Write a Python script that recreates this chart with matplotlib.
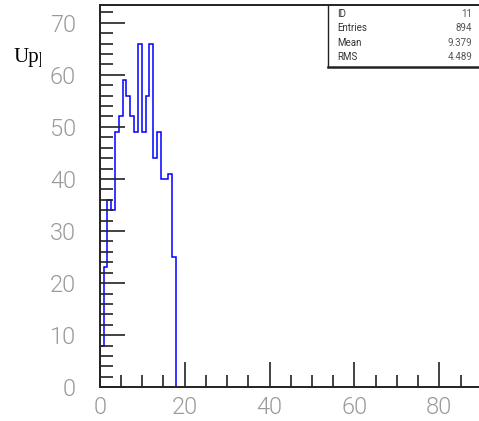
import numpy as np
import matplotlib
matplotlib.use("Agg")
import matplotlib.pyplot as plt
from matplotlib.transforms import Bbox
from matplotlib.lines import Line2D

# Histogram definition: 100 bins on [0, 90]; only the first 20 bins are filled
bin_lo, bin_hi, n_bins = 0.0, 90.0, 100
counts = [8, 23, 36, 34, 49, 52, 59, 56, 52, 49,
          66, 49, 56, 66, 44, 49, 40, 40, 41, 25]

x_major = [0, 20, 40, 60, 80]
y_major = [0, 10, 20, 30, 40, 50, 60, 70]

stat_names = ["ID", "Entries", "Mean", "RMS"]
stat_values = ["11", "894", "9.379", "4.489"]

W, H = 479, 421
fig = plt.figure(figsize=(W / 100, H / 100), dpi=100)

# axes placement in pixels
left_px, right_px = 99.7, 99.7 + 90 * 4.245
bottom_px, top_px = 387.3, 4.7
ax = fig.add_axes([left_px / W, (H - bottom_px) / H,
                   (right_px - left_px) / W, (bottom_px - top_px) / H])

edges = np.linspace(bin_lo, bin_hi, n_bins + 1)[: len(counts) + 1]
ax.stairs(counts, edges, baseline=0, color="#0000ff", lw=1.1, zorder=2)

ax.set_xlim(bin_lo, bin_hi)
ax.set_ylim(0, (bottom_px - top_px) / 5.209)
ax.set_axisbelow(False)

ax.set_xticks(x_major)
ax.set_xticks(np.arange(0, 90, 5), minor=True)
ax.set_yticks(y_major)
ax.set_yticks(np.arange(0, 74, 2), minor=True)

tick_color = "#9a9a9a"
ax.tick_params(which="major", direction="in", length=18, width=1.2,
               color="#222222", labelsize=17, labelcolor=tick_color)
ax.tick_params(which="minor", direction="in", length=9, width=1.2,
               color="#222222")
ax.tick_params(axis="y", pad=17)
ax.tick_params(axis="x", pad=6)
for lab in ax.get_xticklabels() + ax.get_yticklabels():
    lab.set_fontfamily("Roboto")
    lab.set_fontweight(300)

for side in ("left", "bottom", "top"):
    ax.spines[side].set_linewidth(1.4)
    ax.spines[side].set_color("#222222")
ax.spines["right"].set_visible(False)

# statistics box
def px_line(xs, ys, lw):
    fig.add_artist(Line2D([x / W for x in xs], [1 - y / H for y in ys],
                          color="#222222", lw=lw, transform=fig.transFigure))

box_l, box_r, box_t, box_b = 327.5, 481.0, 4.7, 67.0
px_line([box_l, box_l], [box_t, box_b], 1.0)
px_line([box_l, box_r], [box_b, box_b], 1.8)

row_y = [13.7, 28.3, 43.0, 57.5]
for name, val, yy in zip(stat_names, stat_values, row_y):
    fig.text(337 / W, 1 - yy / H, name, fontsize=7, color="#333333",
             ha="left", va="center", family="Roboto")
    fig.text(472.5 / W, 1 - yy / H, val, fontsize=7, color="#555555",
             ha="right", va="center", family="Roboto")

# partially hidden title on the left
t = fig.text(13 / W, 1 - 62 / H, "Upper", fontsize=15,
             family="Liberation Serif", color="black", ha="left",
             va="baseline")
t.set_clip_box(Bbox.from_extents(0, 0, 40.5, H))
t.set_clip_on(True)

fig.savefig("out.png", dpi=100)
